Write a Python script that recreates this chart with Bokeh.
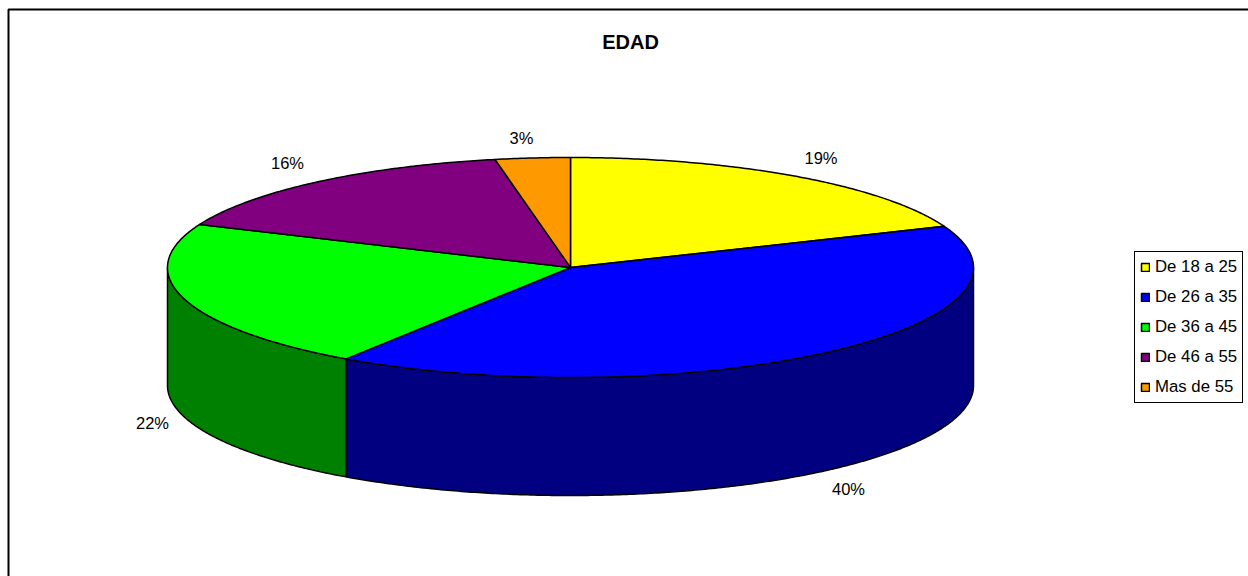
import numpy as np
from bokeh.embed import file_html
from bokeh.resources import INLINE
from bokeh.plotting import figure
from bokeh.models import Range1d, Legend, LegendItem
from bokeh.core.properties import value

title = "EDAD"
categories = ["De 18 a 25", "De 26 a 35", "De 36 a 45", "De 46 a 55", "Mas de 55"]
shares = [18.9, 40.5, 22.0, 15.6, 3.0]
labels = ["19%", "40%", "22%", "16%", "3%"]
top_colors = ["#FFFF00", "#0000FF", "#00FF00", "#800080", "#FF9900"]
side_colors = ["#808000", "#000080", "#008000", "#400040", "#804C00"]

# layout (page pixels)
W, H = 1248, 576
CX, CY, RX, RY, DEPTH = 570, 267, 403, 110, 118
label_x = [820.5, 848, 152, 287, 521]
label_y = [157, 488, 422, 162, 137]
FONT = "Liberation Sans"

p = figure(width=W, height=H, output_backend="svg", toolbar_location=None,
           x_range=Range1d(0, W), y_range=Range1d(H, 0),
           min_border=0, outline_line_color=None, background_fill_color="white",
           border_fill_color="white")
p.xaxis.visible = False
p.yaxis.visible = False
p.grid.visible = False


def arc(a0, a1, dy=0.0):
    t = np.radians(np.linspace(a0, a1, max(3, int(abs(a1 - a0) * 2))))
    return CX + RX * np.sin(t), CY + dy - RY * np.cos(t)


edges = np.concatenate([[0], np.cumsum(shares)]) * 360.0 / sum(shares)

# side walls: only the front half of the disc (90..270 degrees) shows
for a0, a1, c in zip(edges[:-1], edges[1:], side_colors):
    lo, hi = max(a0, 90), min(a1, 270)
    if lo >= hi:
        continue
    xt, yt = arc(lo, hi)
    xb, yb = arc(hi, lo, DEPTH)
    p.patch(np.r_[xt, xb], np.r_[yt, yb], fill_color=c, line_color="black", line_width=1.5)

# top faces
renderers = []
for a0, a1, c in zip(edges[:-1], edges[1:], top_colors):
    xa, ya = arc(a0, a1)
    r = p.patch(np.r_[CX, xa], np.r_[CY, ya], fill_color=c, line_color="black", line_width=1.5)
    renderers.append(r)

p.text(label_x, label_y, text=labels, text_font=value(FONT), text_font_size="16.5px",
       text_color="black", text_align="center", text_baseline="middle")
p.text([630], [41], text=[title], text_font=value(FONT), text_font_size="20px",
       text_font_style="bold", text_color="black", text_align="center", text_baseline="middle")

# chart-area border: only left and top fall inside the picture
p.line([8, 8, W], [H, 9, 9], line_color="black", line_width=2)

legend = Legend(items=[LegendItem(label=c, renderers=[r]) for c, r in zip(categories, renderers)],
                location=(1134, 173), orientation="vertical",
                glyph_width=10, glyph_height=10, spacing=10, padding=5, margin=0,
                label_text_font=FONT, label_text_font_size="16.8px", label_text_color="black",
                label_standoff=5, label_height=17,
                border_line_color="black", border_line_alpha=1.0, border_line_width=1.5,
                background_fill_color="white", background_fill_alpha=1.0)
p.add_layout(legend, "center")

open("out.html", "w").write(file_html(p, INLINE))
